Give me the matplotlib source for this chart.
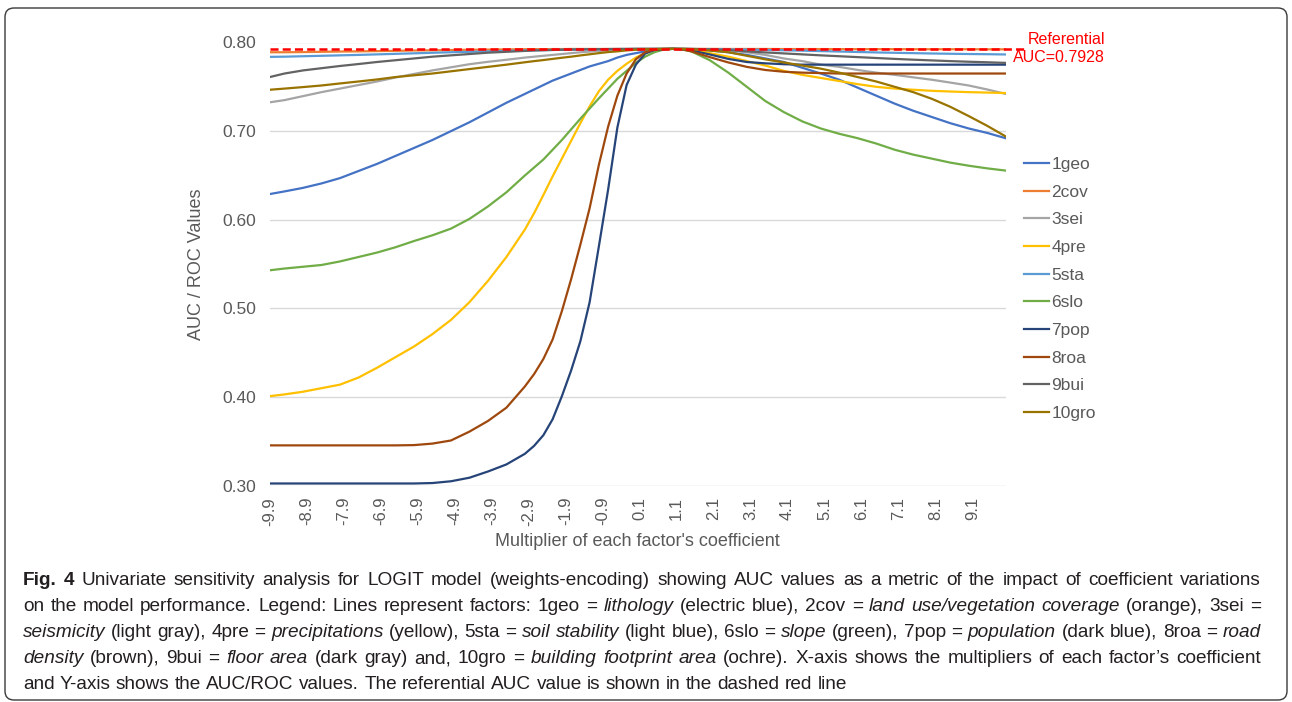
import matplotlib
matplotlib.use("Agg")
import matplotlib.pyplot as plt
from matplotlib import font_manager
from matplotlib.patches import FancyBboxPatch
from matplotlib.transforms import IdentityTransform

# ---------------- data ----------------
x = [-9.9, -9.5, -9.0, -8.5, -8.0, -7.5, -7.0, -6.5, -6.0, -5.5,
     -5.0, -4.5, -4.0, -3.5, -3.0, -2.75, -2.5, -2.25, -2.0, -1.75,
     -1.5, -1.25, -1.0, -0.75, -0.5, -0.25, 0.0, 0.25, 0.5, 0.75,
     1.0, 1.25, 1.5, 2.0, 2.5, 3.0, 3.5, 4.0, 4.5, 5.0,
     5.5, 6.0, 6.5, 7.0, 7.5, 8.0, 8.5, 9.0, 9.5, 10.0]

geo1 = [0.629, 0.632, 0.636, 0.641, 0.647, 0.655, 0.663, 0.672, 0.681, 0.690,
        0.700, 0.710, 0.721, 0.732, 0.742, 0.747, 0.752, 0.757, 0.761, 0.765,
        0.769, 0.773, 0.776, 0.779, 0.783, 0.786, 0.788, 0.790, 0.7915, 0.7925,
        0.7928, 0.7927, 0.7925, 0.791, 0.789, 0.786, 0.782, 0.778, 0.7715, 0.765,
        0.758, 0.749, 0.740, 0.731, 0.723, 0.716, 0.709, 0.703, 0.698, 0.692]
cov2 = [0.789, 0.789, 0.7892, 0.7895, 0.7898, 0.790, 0.7903, 0.7906, 0.791, 0.7912,
        0.7915, 0.7918, 0.792, 0.7922, 0.7924, 0.7925, 0.7925, 0.7926, 0.7926, 0.7927,
        0.7927, 0.7927, 0.7927, 0.7927, 0.7927, 0.7927, 0.7928, 0.7928, 0.7928, 0.7928,
        0.7928, 0.7928, 0.7928, 0.7928, 0.7927, 0.7927, 0.7927, 0.7926, 0.7926, 0.7926,
        0.7925, 0.7925, 0.7925, 0.7925, 0.7924, 0.7924, 0.7924, 0.7924, 0.7923, 0.7923]
sei3 = [0.7325, 0.735, 0.7395, 0.744, 0.748, 0.752, 0.756, 0.7605, 0.7645, 0.7685,
        0.772, 0.7755, 0.7782, 0.7805, 0.783, 0.784, 0.785, 0.786, 0.787, 0.788,
        0.789, 0.7897, 0.7905, 0.791, 0.7915, 0.792, 0.7923, 0.7925, 0.7927, 0.7928,
        0.7928, 0.7928, 0.7926, 0.792, 0.791, 0.789, 0.786, 0.782, 0.779, 0.775,
        0.7725, 0.769, 0.766, 0.7635, 0.7607, 0.758, 0.7548, 0.7515, 0.747, 0.742]
pre4 = [0.401, 0.403, 0.406, 0.410, 0.414, 0.422, 0.433, 0.445, 0.457, 0.471,
        0.487, 0.507, 0.531, 0.558, 0.589, 0.6075, 0.628, 0.649, 0.669, 0.689,
        0.709, 0.728, 0.745, 0.758, 0.768, 0.776, 0.783, 0.788, 0.7915, 0.7925,
        0.7928, 0.7926, 0.792, 0.788, 0.784, 0.779, 0.774, 0.768, 0.7635, 0.760,
        0.7565, 0.753, 0.750, 0.748, 0.7467, 0.7455, 0.7447, 0.744, 0.7435, 0.743]
sta5 = [0.7838, 0.784, 0.7845, 0.785, 0.7855, 0.786, 0.7866, 0.7872, 0.7878, 0.7884,
        0.789, 0.7895, 0.790, 0.7905, 0.791, 0.7912, 0.7914, 0.7916, 0.7918, 0.792,
        0.7922, 0.7923, 0.7924, 0.7925, 0.7926, 0.7927, 0.7928, 0.7928, 0.7928, 0.7928,
        0.7928, 0.7928, 0.7927, 0.7925, 0.7922, 0.792, 0.7916, 0.7912, 0.7908, 0.7903,
        0.7898, 0.7893, 0.7888, 0.7884, 0.788, 0.7876, 0.7873, 0.787, 0.7868, 0.7865]
slo6 = [0.543, 0.545, 0.547, 0.549, 0.553, 0.558, 0.563, 0.569, 0.576, 0.5825,
        0.590, 0.601, 0.615, 0.631, 0.650, 0.659, 0.668, 0.679, 0.690, 0.702,
        0.714, 0.7255, 0.737, 0.748, 0.759, 0.768, 0.777, 0.784, 0.789, 0.792,
        0.7928, 0.7922, 0.790, 0.780, 0.766, 0.750, 0.734, 0.7215, 0.711, 0.703,
        0.697, 0.692, 0.686, 0.679, 0.6735, 0.669, 0.6645, 0.661, 0.658, 0.6555]
pop7 = [0.3025, 0.3025, 0.3025, 0.3025, 0.3025, 0.3025, 0.3025, 0.3025, 0.3025, 0.303,
        0.305, 0.309, 0.316, 0.324, 0.336, 0.345, 0.357, 0.375, 0.401, 0.430,
        0.463, 0.507, 0.570, 0.634, 0.704, 0.752, 0.775, 0.7875, 0.7915, 0.7925,
        0.7928, 0.7925, 0.791, 0.7865, 0.7815, 0.778, 0.7765, 0.7755, 0.775, 0.775,
        0.775, 0.775, 0.775, 0.775, 0.775, 0.775, 0.775, 0.775, 0.775, 0.775]
roa8 = [0.3455, 0.3455, 0.3455, 0.3455, 0.3455, 0.3455, 0.3455, 0.3455, 0.3458, 0.3475,
        0.351, 0.361, 0.373, 0.388, 0.412, 0.426, 0.443, 0.465, 0.497, 0.533,
        0.572, 0.613, 0.662, 0.705, 0.740, 0.765, 0.781, 0.789, 0.792, 0.7927,
        0.7928, 0.7922, 0.790, 0.7835, 0.7775, 0.7725, 0.769, 0.767, 0.766, 0.7655,
        0.765, 0.765, 0.765, 0.765, 0.765, 0.765, 0.765, 0.765, 0.765, 0.765]
bui9 = [0.761, 0.765, 0.7685, 0.771, 0.7735, 0.7757, 0.778, 0.780, 0.782, 0.784,
        0.7855, 0.787, 0.7885, 0.7895, 0.7905, 0.791, 0.7913, 0.7916, 0.7918, 0.792,
        0.7922, 0.7924, 0.7925, 0.7926, 0.7927, 0.7927, 0.7928, 0.7928, 0.7928, 0.7928,
        0.7928, 0.7928, 0.7927, 0.7922, 0.7915, 0.790, 0.7888, 0.7877, 0.7866, 0.7855,
        0.7845, 0.7835, 0.7825, 0.7815, 0.7806, 0.7798, 0.779, 0.7783, 0.7777, 0.777]
gro10 = [0.7467, 0.748, 0.7497, 0.7515, 0.7538, 0.756, 0.7583, 0.761, 0.763, 0.765,
         0.7675, 0.770, 0.7725, 0.775, 0.7777, 0.779, 0.7802, 0.7815, 0.7828, 0.784,
         0.7854, 0.7867, 0.788, 0.7892, 0.790, 0.7911, 0.7918, 0.7923, 0.7926, 0.7928,
         0.7928, 0.7928, 0.7925, 0.791, 0.789, 0.785, 0.781, 0.7775, 0.774, 0.7705,
         0.766, 0.761, 0.756, 0.750, 0.744, 0.7365, 0.7275, 0.717, 0.706, 0.694]

series_labels = ["1geo", "2cov", "3sei", "4pre", "5sta", "6slo", "7pop", "8roa", "9bui", "10gro"]
series_values = [geo1, cov2, sei3, pre4, sta5, slo6, pop7, roa8, bui9, gro10]
series_colors = ["#4472C4", "#ED7D31", "#A5A5A5", "#FFC000", "#5B9BD5",
                 "#70AD47", "#264478", "#9E480E", "#636363", "#997300"]

xtick_labels = ["-9.9", "-8.9", "-7.9", "-6.9", "-5.9", "-4.9", "-3.9", "-2.9", "-1.9", "-0.9",
                "0.1", "1.1", "2.1", "3.1", "4.1", "5.1", "6.1", "7.1", "8.1", "9.1"]
xtick_values = [float(s) for s in xtick_labels]
ytick_values = [0.30, 0.40, 0.50, 0.60, 0.70, 0.80]
ref_auc = 0.7928
ref_label_top = "Referential"
ref_label_bottom = "AUC=0.7928"

caption_lines = [
    [("Fig. 4", "b"), ("Univariate sensitivity analysis for LOGIT model (weights-encoding) showing AUC values as a metric of the impact of coefficient variations", "n")],
    [("on the model performance. Legend: Lines represent factors: 1geo =", "n"), ("lithology", "i"),
     ("(electric blue), 2cov =", "n"), ("land use/vegetation coverage", "i"), ("(orange), 3sei =", "n")],
    [("seismicity", "i"), ("(light gray), 4pre =", "n"), ("precipitations", "i"), ("(yellow), 5sta =", "n"),
     ("soil stability", "i"), ("(light blue), 6slo =", "n"), ("slope", "i"), ("(green), 7pop =", "n"),
     ("population", "i"), ("(dark blue), 8roa =", "n"), ("road", "i")],
    [("density", "i"), ("(brown), 9bui =", "n"), ("floor area", "i"), ("(dark gray) and, 10gro =", "n"),
     ("building footprint area", "i"), ("(ochre). X-axis shows the multipliers of each factor\u2019s coefficient", "n")],
    [("and Y-axis shows the AUC/ROC values. The referential AUC value is shown in the dashed red line", "n")],
]

# ---------------- figure ----------------
W, H = 1292, 702
plt.rcParams["font.family"] = ["Liberation Sans", "DejaVu Sans"]
plt.rcParams["lines.scale_dashes"] = False
fig = plt.figure(figsize=(W / 100, H / 100), dpi=100)
fig.patch.set_facecolor("white")

ax_left, ax_right, ax_top, ax_bottom = 269.7, 1005.7, 42.5, 485.7
ax = fig.add_axes([ax_left / W, 1 - ax_bottom / H, (ax_right - ax_left) / W, (ax_bottom - ax_top) / H])

for lab, vals, col in zip(series_labels, series_values, series_colors):
    ax.plot(x, vals, color=col, lw=1.6, label=lab, solid_joinstyle="round")

ax.plot([x[0], 10.5], [ref_auc, ref_auc], color="#FF0000", lw=1.8, dashes=(5.8, 3.0),
        clip_on=False, zorder=5)

ax.set_xlim(-9.9, 10.0)
ax.set_ylim(0.30, 0.80)
ax.set_yticks(ytick_values)
ax.set_yticklabels([f"{v:.2f}" for v in ytick_values])
ax.set_xticks(xtick_values)
ax.set_xticklabels(xtick_labels, rotation=90)
ax.grid(axis="y", color="#D9D9D9", lw=1.0)
ax.set_axisbelow(True)
for s in ax.spines.values():
    s.set_visible(False)
ax.tick_params(axis="both", length=0, colors="#595959")
ax.tick_params(axis="y", labelsize=12.5, pad=10)
ax.tick_params(axis="x", labelsize=12, pad=8)

ax.set_ylabel("AUC / ROC Values", fontsize=13, color="#595959")
ax.yaxis.set_label_coords((205 - ax_left) / (ax_right - ax_left), 0.5)
ax.set_xlabel("Multiplier of each factor's coefficient", fontsize=13, color="#595959")
ax.xaxis.set_label_coords(0.5, (ax_bottom - 542) / (ax_bottom - ax_top))
ax.xaxis.label.set_va("center")

leg = fig.legend(loc="upper left", bbox_to_anchor=(1024 / W, 1 - 157 / H), frameon=False,
                 fontsize=12.5, handlelength=1.45, handletextpad=0.12, labelspacing=0.72,
                 borderaxespad=0, borderpad=0)
for t in leg.get_texts():
    t.set_color("#595959")

fig.text(1105 / W, 1 - 39 / H, ref_label_top, color="#FF0000", fontsize=11.5, ha="right", va="center")
fig.text(1105 / W, 1 - 57 / H, ref_label_bottom, color="#FF0000", fontsize=11.5, ha="right", va="center")

# ---------------- caption ----------------
names = {f.name for f in font_manager.fontManager.ttflist}
cap_font = "Liberation Sans Narrow" if "Liberation Sans Narrow" in names else "Liberation Sans"
renderer = fig.canvas.get_renderer()


def cap_props(style, size):
    return dict(fontsize=size, family=cap_font, color="#231F20",
                fontweight="bold" if style == "b" else "normal",
                fontstyle="italic" if style == "i" else "normal")


def text_width(s, style, size):
    t = fig.text(0, 0, s, **cap_props(style, size))
    w = t.get_window_extent(renderer).width
    t.remove()
    return w


def words_of(line):
    out = []
    for txt, st in line:
        for w in txt.split(" "):
            if w:
                out.append((w, st))
    return out


x0, target = 23.0, 1238.0
base = 10.0
sp_base = text_width("a a", "n", base) - text_width("aa", "n", base)
nat_widths = []
for line in caption_lines[:-1]:
    wl = words_of(line)
    nat_widths.append(sum(text_width(w, s, base) for w, s in wl) + (len(wl) - 1) * sp_base)
cap_size = base * target / max(nat_widths)
space_w = text_width("a a", "n", cap_size) - text_width("aa", "n", cap_size)

for i, line in enumerate(caption_lines):
    wl = words_of(line)
    widths = [text_width(w, s, cap_size) for w, s in wl]
    if i < len(caption_lines) - 1 and len(wl) > 1:
        gap = (target - sum(widths)) / (len(wl) - 1)
    else:
        gap = space_w
    xp = x0
    yb = 585 + 26 * i
    for (w, s), ww in zip(wl, widths):
        fig.text(xp / W, 1 - yb / H, w, va="baseline", ha="left", **cap_props(s, cap_size))
        xp += ww + gap

# outer rounded frame
frame = FancyBboxPatch((5, 2), 1282, 692, boxstyle="round,pad=0,rounding_size=9",
                       transform=IdentityTransform(), fill=False, ec="#3a3a3a", lw=1.0)
fig.patches.append(frame)

fig.savefig("out.png", dpi=100)
